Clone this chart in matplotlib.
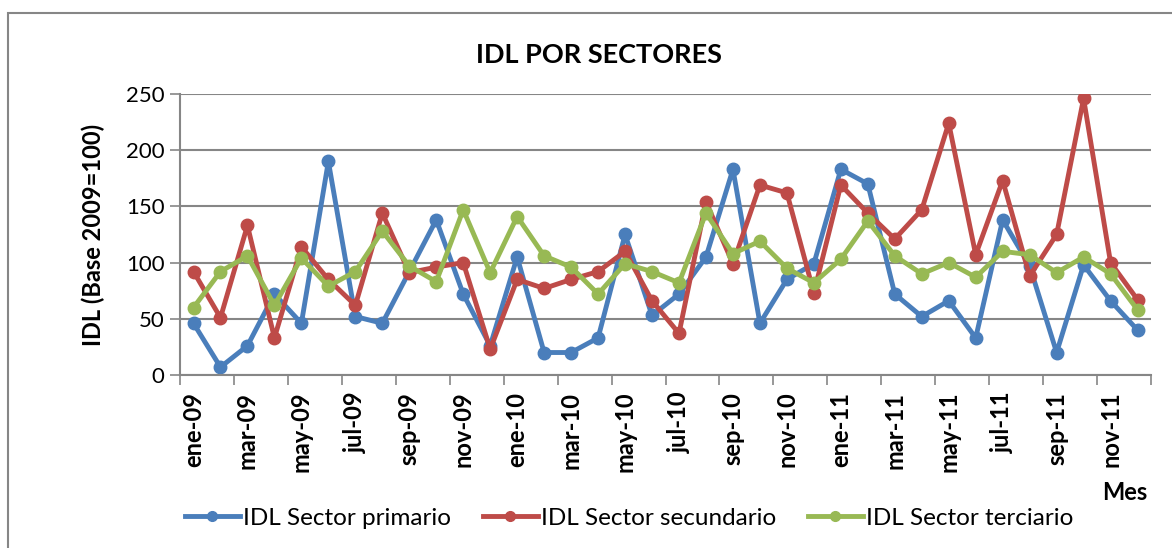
import matplotlib.pyplot as plt
from matplotlib.lines import Line2D
from matplotlib.patches import Rectangle

plt.rcParams['font.family'] = ['Lato', 'DejaVu Sans']

# months ene-09 .. dic-11
meses = ['ene', 'feb', 'mar', 'abr', 'may', 'jun', 'jul', 'ago', 'sep', 'oct', 'nov', 'dic']
labels = [m + '-' + a for a in ['09', '10', '11'] for m in meses]

primario = [46, 7, 26, 72, 46, 190, 52, 46, 92, 138, 72, 26,
            105, 20, 20, 33, 125, 53, 72, 105, 183, 46, 85, 99,
            183, 170, 72, 52, 66, 33, 138, 97, 20, 98, 66, 40]
secundario = [92, 51, 133, 33, 114, 85, 62, 144, 91, 96, 100, 23,
              85, 77, 85, 92, 110, 66, 37, 154, 99, 169, 162, 73,
              169, 144, 121, 147, 224, 107, 173, 88, 125, 246, 100, 67]
terciario = [60, 92, 106, 62, 104, 79, 92, 128, 97, 83, 147, 91,
             141, 106, 96, 72, 99, 92, 82, 144, 108, 119, 95, 82,
             103, 137, 106, 90, 100, 87, 110, 107, 91, 105, 90, 58]

series = [('IDL Sector primario', primario, '#4A7EBB'),
          ('IDL Sector secundario', secundario, '#BE4B48'),
          ('IDL Sector terciario', terciario, '#98B954')]

fig = plt.figure(figsize=(11.72, 5.48), dpi=100)
ax = fig.add_axes([0.1536, 0.3157, 0.8285, 0.5128])

x = list(range(len(labels)))
handles = []
for name, vals, col in series:
    ax.plot(x, vals, color=col, lw=3.5, marker='o', ms=9, solid_capstyle='round')
    handles.append(Line2D([0], [0], color=col, lw=3.5, marker='o', ms=7, label=name))

ax.set_xlim(-0.5, len(labels) - 0.5)
ax.set_ylim(0, 250)
ax.set_yticks([0, 50, 100, 150, 200, 250])
ax.set_xticks(x[::2])
ax.set_xticklabels(labels[::2], rotation=90, fontsize=17, fontweight='bold')
ax.set_xticks([i - 0.5 for i in range(0, len(labels) + 1, 2)], minor=True)
ax.tick_params(axis='x', which='major', length=0, pad=12)
ax.tick_params(axis='x', which='minor', length=7, color='#868686', width=1.2)
ax.tick_params(axis='y', length=7, color='#868686', width=1.2, labelsize=16, pad=4)

ax.grid(axis='y', color='#868686', lw=1.5)
ax.set_axisbelow(True)
for s in ['top', 'right']:
    ax.spines[s].set_visible(False)
for s in ['left', 'bottom']:
    ax.spines[s].set_color('#868686')
    ax.spines[s].set_linewidth(1.5)

ax.set_ylabel('IDL (Base 2009=100)', fontsize=17, fontweight='bold', labelpad=15)
fig.text(0.511, 0.90, 'IDL POR SECTORES', ha='center', va='center', fontsize=19.5, fontweight='bold')
fig.text(1125 / 1172, 1 - 493 / 548, 'Mes', ha='center', va='center', fontsize=17, fontweight='bold')

fig.legend(handles=handles, loc='center', bbox_to_anchor=(0.537, 1 - 518 / 548), ncol=3,
           frameon=False, fontsize=17.5, handlelength=2.25, columnspacing=1.3, handletextpad=0.15)

fig.patches.append(Rectangle((8 / 1172, -0.1), 1.2, 1 - 13 / 548 + 0.1, transform=fig.transFigure,
                             fill=False, edgecolor='#868686', lw=1.5))

fig.savefig('out.png', dpi=100)
